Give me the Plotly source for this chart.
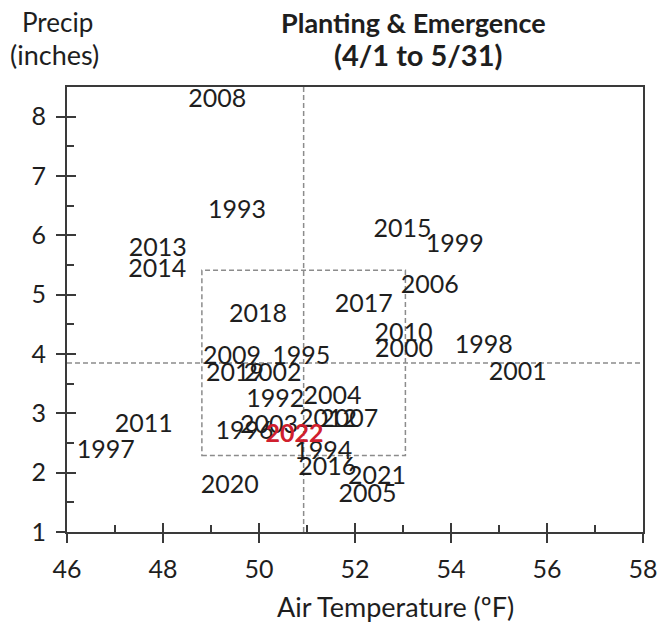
import plotly.graph_objects as go

# Data: each year's planting-season air temperature (F) and precipitation (inches)
years = ["2008", "1993", "2013", "2014", "2015", "1999", "2006", "2017", "2018",
         "2010", "2000", "1998", "2001", "2009", "1995", "2019", "2002", "1992",
         "2004", "2012", "2007", "2011", "1997", "1996", "2003", "1994",
         "2016", "2021", "2005", "2020", "2022"]
temps = [49.13, 49.54, 47.89, 47.88, 52.99, 54.08, 53.56, 52.18, 49.98,
         53.01, 53.02, 54.68, 55.39, 49.44, 50.88, 49.50, 50.28, 50.34,
         51.53, 51.44, 51.88, 47.60, 46.81, 49.70, 50.21, 51.34,
         51.42, 52.46, 52.26, 49.39, 50.74]
precip = [8.27, 6.39, 5.75, 5.41, 6.07, 5.82, 5.13, 4.81, 4.64,
          4.33, 4.05, 4.13, 3.67, 3.93, 3.93, 3.65, 3.65, 3.22,
          3.27, 2.87, 2.87, 2.79, 2.36, 2.67, 2.77, 2.33,
          2.07, 1.92, 1.61, 1.77, 2.63]
highlight_year = "2022"

# Long-term averages and +/- one standard deviation
temp_mean = 50.93
temp_sd = 2.12
precip_mean = 3.85
precip_sd = 1.56

x_range = [46, 58]
y_range = [1, 8.5]

FONT = "Lato"
TEXT = "#1e1e1e"
AXIS = "#3a3a3a"
GRID = "#8c8c8c"

colors = ["#d0202e" if y == highlight_year else TEXT for y in years]
texts = [f"<b>{y}</b>" if y == highlight_year else y for y in years]

fig = go.Figure()
fig.add_trace(go.Scatter(
    x=temps, y=precip, mode="text", text=texts,
    textposition="middle center",
    textfont=dict(family=FONT, size=25, color=colors),
    hoverinfo="skip", showlegend=False,
))
# invisible trace to build overlay axes that carry the inside ticks
fig.add_trace(go.Scatter(x=[x_range[0]], y=[y_range[0]], xaxis="x2", yaxis="y2",
                         mode="markers", marker=dict(opacity=0, size=1),
                         hoverinfo="skip", showlegend=False))

dash = dict(color=GRID, width=1.5, dash="5px,3px")
fig.add_shape(type="line", x0=temp_mean, x1=temp_mean, y0=y_range[0], y1=y_range[1],
              xref="x", yref="y", line=dash, layer="below")
fig.add_shape(type="line", x0=x_range[0], x1=x_range[1], y0=precip_mean, y1=precip_mean,
              xref="x", yref="y", line=dash, layer="below")
fig.add_shape(type="rect", x0=temp_mean - temp_sd, x1=temp_mean + temp_sd,
              y0=precip_mean - precip_sd, y1=precip_mean + precip_sd,
              xref="x", yref="y", line=dash, layer="below")

tickfont = dict(family=FONT, size=25, color=TEXT)
fig.update_layout(
    width=670, height=623,
    margin=dict(l=67, r=20, t=87, b=91),
    paper_bgcolor="white", plot_bgcolor="white",
    xaxis=dict(range=x_range, dtick=2, tick0=46, ticks="outside", ticklen=9,
               tickwidth=1.5, tickcolor=AXIS, showline=True, linecolor=AXIS,
               linewidth=2, mirror=True, showgrid=False, zeroline=False,
               tickfont=tickfont, ticklabelstandoff=5),
    yaxis=dict(range=y_range, dtick=1, tick0=1, ticks="outside", ticklen=9,
               tickwidth=1.5, tickcolor=AXIS, showline=True, linecolor=AXIS,
               linewidth=2, mirror=True, showgrid=False, zeroline=False,
               tickfont=tickfont, ticklabelstandoff=5),
    xaxis2=dict(range=x_range, overlaying="x", anchor="y2", side="bottom",
                dtick=2, tick0=46, ticks="inside", ticklen=9, tickwidth=1.5,
                tickcolor=AXIS, showticklabels=False, showgrid=False,
                zeroline=False, showline=False,
                minor=dict(dtick=1, tick0=46, ticks="inside", ticklen=7,
                           tickwidth=1.5, tickcolor=AXIS, showgrid=False)),
    yaxis2=dict(range=y_range, overlaying="y", anchor="x2", side="left",
                dtick=1, tick0=1, ticks="inside", ticklen=9, tickwidth=1.5,
                tickcolor=AXIS, showticklabels=False, showgrid=False,
                zeroline=False, showline=False,
                minor=dict(dtick=0.5, tick0=1, ticks="inside", ticklen=7,
                           tickwidth=1.5, tickcolor=AXIS, showgrid=False)),
)

ann_font = dict(family=FONT, size=26, color=TEXT)
fig.add_annotation(text="<b>Planting & Emergence</b>", x=0.602, y=1.146,
                   xref="paper", yref="paper", showarrow=False,
                   font=dict(family=FONT, size=27, color=TEXT),
                   xanchor="center", yanchor="middle")
fig.add_annotation(text="<b>(4/1 to 5/31)</b>", x=0.61, y=1.072,
                   xref="paper", yref="paper", showarrow=False,
                   font=dict(family=FONT, size=29, color=TEXT),
                   xanchor="center", yanchor="middle")
fig.add_annotation(text="Precip", x=-0.017, y=1.146, xref="paper", yref="paper",
                   showarrow=False, font=ann_font, xanchor="center", yanchor="middle")
fig.add_annotation(text="(inches)", x=-0.021, y=1.072, xref="paper", yref="paper",
                   showarrow=False, font=dict(family=FONT, size=27, color=TEXT),
                   xanchor="center", yanchor="middle")
fig.add_annotation(text="Air Temperature (ºF)", x=0.571, y=-0.168,
                   xref="paper", yref="paper", showarrow=False,
                   font=dict(family=FONT, size=27, color=TEXT),
                   xanchor="center", yanchor="middle")

fig.write_html("out.html", config={"displayModeBar": False},
               post_script="document.body.style.margin='0px';")
